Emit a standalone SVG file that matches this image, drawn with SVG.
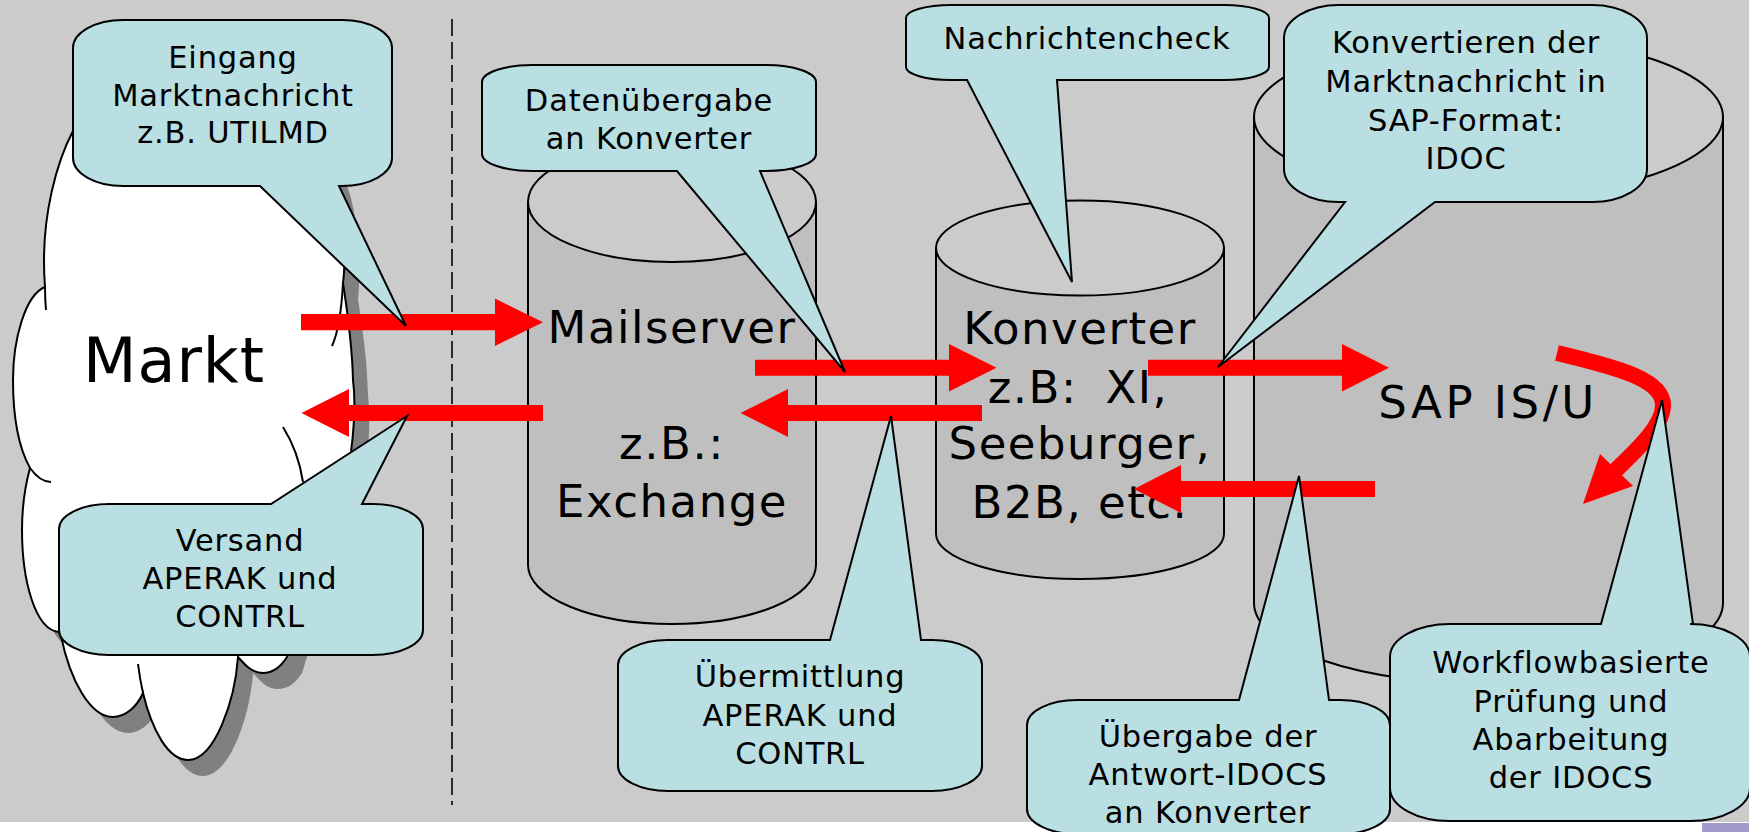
<svg xmlns="http://www.w3.org/2000/svg" width="1749" height="832" viewBox="0 0 1749 832">
<style>
text{font-family:"DejaVu Sans","Liberation Sans",sans-serif;fill:#000;text-anchor:middle}
.s{font-size:30.5px;letter-spacing:.8px}
.l{font-size:45px;letter-spacing:1.5px}
.m{font-size:62px;letter-spacing:1px}
.w{letter-spacing:3.5px}
.x{word-spacing:12px}
.cl{fill:#b9dfe3;stroke:#000;stroke-width:2;stroke-linejoin:miter}
.cy{fill:#bfbfbf;stroke:#000;stroke-width:2}
.top{fill:#cbcbcb;stroke:#000;stroke-width:2}
.in{fill:none;stroke:#000;stroke-width:2}
.ar{fill:#f00;stroke:none}
</style>
<defs>
<path id="cloudShape" d="M100,100L73,131C55,165 44,215 44,260Q44,275 45,287C25,295 13,340 13,380C13,420 20,450 30,468C24,490 22,510 22,530C22,580 35,630 59,632L61,636C70,680 90,717 113,717C125,717 137,707 143,693C152,730 168,760 188,760C215,760 235,700 238,657C245,665 252,673 263,673C272,673 280,668 287,657L351,452C355,420 355,395 353,380C352,340 347,310 343,283C346,260 344,200 332,170L300,100Z"/>
</defs>
<rect width="1749" height="832" fill="#fff"/>
<rect width="1749" height="822" fill="#cbcbcb"/>
<rect x="1702" y="823" width="47" height="9" fill="#a09bca"/>
<line x1="452" y1="19" x2="452" y2="805" stroke="#000" stroke-width="1.6" stroke-dasharray="17 6"/>

<g id="markt">
<use href="#cloudShape" fill="#808080" transform="translate(15,16)"/>
<use href="#cloudShape" fill="#fff" stroke="#000" stroke-width="2"/>
<path class="in" d="M45,287Q45,300 46,310M30,468C35,475 42,482 51,482M138,664Q140,680 143,693M332,346C337,335 341,320 343,283M283,427C293,443 300,462 303,482"/>
<text class="m" x="174" y="382">Markt</text>
</g>

<g id="mailserver">
<path class="cy" d="M528,202V565A144,59 0 0 0 816,565V202Z"/>
<ellipse class="top" cx="672" cy="202" rx="144" ry="60"/>
<text class="l" x="672" y="343">Mailserver</text>
<text class="l" x="672" y="459">z.B.:</text>
<text class="l" x="672" y="517">Exchange</text>
</g>

<g id="konverter">
<path class="cy" d="M936,248V534A144,45 0 0 0 1224,534V248Z"/>
<ellipse class="top" cx="1080" cy="248" rx="144" ry="47.5"/>
<text class="l" x="1080" y="344">Konverter</text>
<text class="l x" x="1078" y="403">z.B: XI,</text>
<text class="l" x="1080" y="459">Seeburger,</text>
<text class="l" x="1080" y="518">B2B, etc.</text>
</g>

<g id="sap">
<path class="cy" d="M1254,117V603A234.500,81 0 0 0 1723,603V117Z"/>
<ellipse class="top" cx="1488.500" cy="117" rx="234.500" ry="81"/>
<text class="l w" x="1488" y="418">SAP IS/U</text>
</g>

<g id="connectors">
<path class="ar" d="M301,314H495V298.500L543,322.300L495,346V330.300H301Z"/>
<path class="ar" d="M543,405H349V389L301.500,413L349,437V421H543Z"/>
<path class="ar" d="M755,359.700H949V344L996.500,367.700L949,391.500V375.700H755Z"/>
<path class="ar" d="M982,405H788V389L740.500,413L788,437V421H982Z"/>
<path class="ar" d="M1148,359.700H1342V344L1389,367.700L1342,391.500V375.700H1148Z"/>
<path class="ar" d="M1375,481H1181V465L1134,489L1181,513V497H1375Z"/>
<path d="M1557,353C1620,368 1663,380 1663,405C1663,425 1640,447 1616,470" fill="none" stroke="#f00" stroke-width="16"/>
<path class="ar" d="M1600,454L1583,504L1633,486Z"/>
</g>

<g id="callout-eingang">
<path class="cl" d="M123,20H342A50,28 0 0 1 392,48V158A50,28 0 0 1 342,186H339L406,326L260,186H123A50,28 0 0 1 73,158V48A50,28 0 0 1 123,20Z"/>
<text class="s" x="233" y="68">Eingang</text>
<text class="s" x="233" y="106">Marktnachricht</text>
<text class="s" x="233" y="143">z.B. UTILMD</text>
</g>

<g id="callout-datenuebergabe">
<path class="cl" d="M532,65H766A50,17 0 0 1 816,82V154A50,17 0 0 1 766,171H760L845,372L677,171H532A50,17 0 0 1 482,154V82A50,17 0 0 1 532,65Z"/>
<text class="s" x="649" y="111">Datenübergabe</text>
<text class="s" x="649" y="149">an Konverter</text>
</g>

<g id="callout-nachrichtencheck">
<path class="cl" d="M951,5H1224A45,13 0 0 1 1269,18V67A45,13 0 0 1 1224,80H1057L1072,282L967,80H951A45,13 0 0 1 906,67V18A45,13 0 0 1 951,5Z"/>
<text class="s" x="1087" y="49">Nachrichtencheck</text>
</g>

<g id="callout-konvertieren">
<path class="cl" d="M1339,5H1592A55,33 0 0 1 1647,38V169A55,33 0 0 1 1592,202H1435L1218,367L1345,202H1339A55,33 0 0 1 1284,169V38A55,33 0 0 1 1339,5Z"/>
<text class="s" x="1466" y="53">Konvertieren der</text>
<text class="s" x="1466" y="92">Marktnachricht in</text>
<text class="s" x="1466" y="131">SAP-Format:</text>
<text class="s" x="1466" y="169">IDOC</text>
</g>

<g id="callout-versand">
<path class="cl" d="M109,504H271L407,416L362,504H373A50,25 0 0 1 423,529V630A50,25 0 0 1 373,655H109A50,25 0 0 1 59,630V529A50,25 0 0 1 109,504Z"/>
<text class="s" x="240" y="551">Versand</text>
<text class="s" x="240" y="589">APERAK und</text>
<text class="s" x="240" y="627">CONTRL</text>
</g>

<g id="callout-uebermittlung">
<path class="cl" d="M668,640H830L891,416L921,640H932A50,25 0 0 1 982,665V766A50,25 0 0 1 932,791H668A50,25 0 0 1 618,766V665A50,25 0 0 1 668,640Z"/>
<text class="s" x="800" y="687">Übermittlung</text>
<text class="s" x="800" y="726">APERAK und</text>
<text class="s" x="800" y="764">CONTRL</text>
</g>

<g id="callout-uebergabe">
<path class="cl" d="M1077,700H1239L1299,476L1329,700H1340A50,25 0 0 1 1390,725V809A50,25 0 0 1 1340,834H1077A50,25 0 0 1 1027,809V725A50,25 0 0 1 1077,700Z"/>
<text class="s" x="1208" y="747">Übergabe der</text>
<text class="s" x="1208" y="785">Antwort-IDOCS</text>
<text class="s" x="1208" y="823">an Konverter</text>
</g>

<g id="callout-workflow">
<path class="cl" d="M1450,624H1601L1662,400L1693,624H1690A60,33 0 0 1 1750,657V788A60,33 0 0 1 1690,821H1450A60,33 0 0 1 1390,788V657A60,33 0 0 1 1450,624Z"/>
<text class="s" x="1571" y="673">Workflowbasierte</text>
<text class="s" x="1571" y="712">Prüfung und</text>
<text class="s" x="1571" y="750">Abarbeitung</text>
<text class="s" x="1571" y="788">der IDOCS</text>
</g>
</svg>
